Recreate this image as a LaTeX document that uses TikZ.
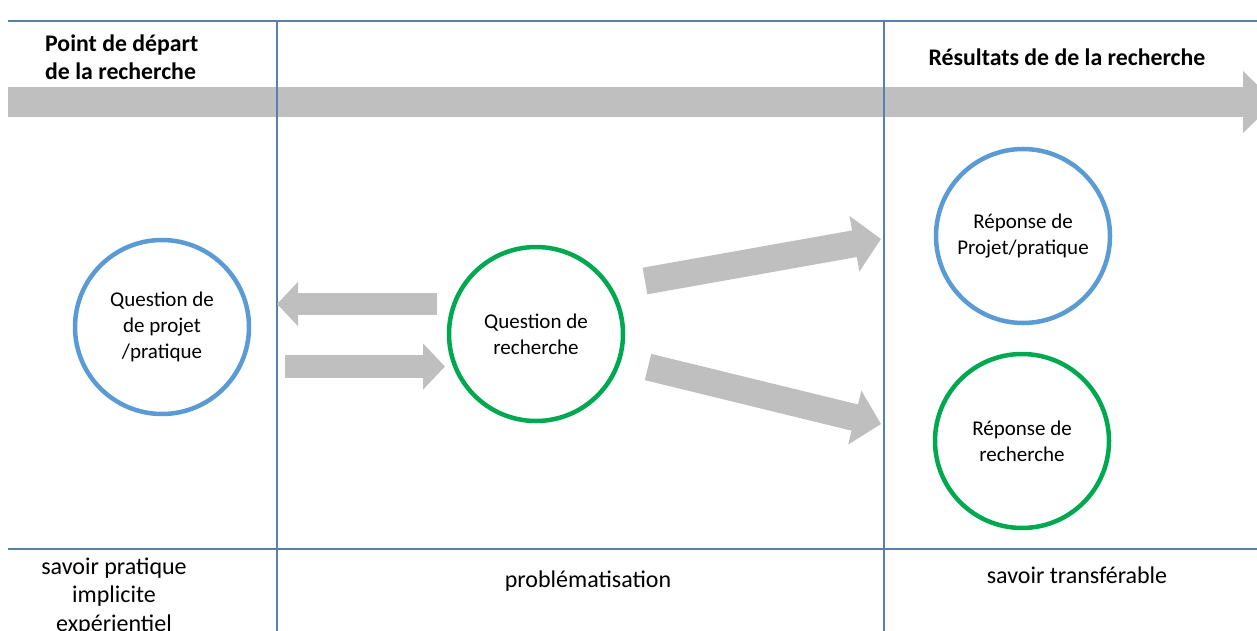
\documentclass[tikz,border=0pt]{standalone}
\usepackage{fontspec}
\setmainfont{Carlito}
\usetikzlibrary{arrows.meta}

\definecolor{ringblue}{RGB}{91,155,213}
\definecolor{ringgreen}{RGB}{0,168,80}
\definecolor{bandgray}{RGB}{191,191,191}
\definecolor{gridblue}{RGB}{88,128,172}

\begin{document}
\begin{tikzpicture}[x=1pt,y=-1pt,
    ring/.style={circle, line width=4.5pt, minimum size=174pt, inner sep=0pt,
      align=center, font=\fontsize{21}{26}\selectfont},
    bluering/.style={ring, draw=ringblue},
    greenring/.style={ring, draw=ringgreen},
    blockarrow/.style n args={3}{draw=bandgray, line width=#1,
      -{Triangle[length=#2,width=#3]}},
    heading/.style={font=\bfseries\fontsize{23.8}{28}\selectfont, inner sep=0pt},
    footer/.style={font=\fontsize{24}{28.5}\selectfont, align=center, inner sep=0pt}]
  \useasboundingbox (0,0) rectangle (1257,631);

  % the long arrow of the research
  \coordinate (bandstart) at (8,102);
  \coordinate (bandend) at (1275,102);
  \draw[blockarrow={30pt}{32pt}{60pt}] (bandstart) -- (bandend);

  % table lines
  \draw[gridblue, line width=1.2pt] (8,21) -- (1257,21);
  \draw[gridblue, line width=1.2pt] (8,549) -- (1257,549);
  \draw[gridblue, line width=1.2pt] (277,21) -- (277,631);
  \draw[gridblue, line width=1.2pt] (884,21) -- (884,631);

  % headings
  \node[heading, align=left, anchor=base west] (depart) at (45,80) {Point de départ\\de la recherche};
  \node[heading, anchor=base] (resultats) at (1067,66) {Résultats de de la recherche};

  % the four questions and answers
  \node[bluering] (qprojet) at (162,327) {Question de\\de projet\\/pratique};
  \node[greenring] (qrech) at (536,334) {Question de\\recherche};
  \node[bluering] (rprojet) at (1023,236) {Réponse de\\Projet/pratique};
  \node[greenring] (rrech) at (1022,441) {Réponse de\\recherche};

  % arrows between them
  \coordinate (backtail) at (437,304);
  \coordinate (backtip) at (277,304);
  \coordinate (fwdtail) at (285,366.5);
  \coordinate (fwdtip) at (445,366.5);
  \coordinate (uptail) at (645,281);
  \coordinate (uptip) at (881,239);
  \coordinate (downtail) at (648,367);
  \coordinate (downtip) at (881,424);
  \draw[blockarrow={22pt}{21pt}{43pt}] (backtail) -- (backtip);
  \draw[blockarrow={23pt}{22pt}{45pt}] (fwdtail) -- (fwdtip);
  \draw[blockarrow={27pt}{27pt}{55pt}] (uptail) -- (uptip);
  \draw[blockarrow={27pt}{27pt}{54pt}] (downtail) -- (downtip);

  % bottom row
  \node[footer, anchor=base] (savoirpratique) at (114,631) {savoir pratique\\implicite\\expérientiel};
  \node[footer, anchor=base] (problem) at (588,587) {problématisation};
  \node[footer, anchor=base] (transfer) at (1077,583) {savoir transférable};
\end{tikzpicture}
\end{document}
